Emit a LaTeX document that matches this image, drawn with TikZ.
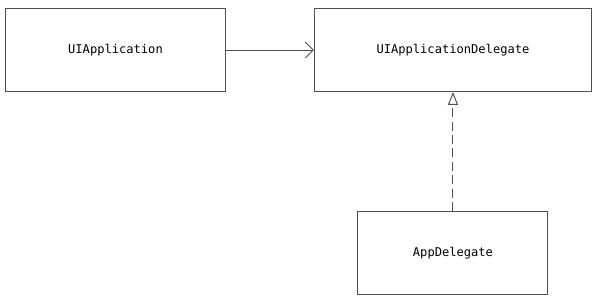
\documentclass[tikz,border=0pt]{standalone}
\usepackage{fontspec}
\setmonofont{DejaVu Sans Mono}
\usepackage{tikz}
\usetikzlibrary{
    arrows.meta,
    positioning,
    calc
}
\definecolor{linegray}{RGB}{80,80,80}
\tikzset{
    classbox/.style={
        draw=linegray,
        rectangle,
        minimum height=20.75mm,
        line width=0.7pt,
        fill=white,
        font=\ttfamily\fontsize{8.6}{10}\selectfont
    },
    assoc/.style={
        -{Straight Barb[length=2mm,width=4mm,open]},
        draw=linegray,
        line width=0.7pt
    },
    realize/.style={
        -{Triangle[length=3.2mm,width=2.5mm,open,fill=white]},
        draw=linegray,
        line width=0.7pt,
        dash pattern=on 2.25mm off 1.1mm
    }
}

\begin{document}
\begin{tikzpicture}[
    node distance=22mm
]

\node[classbox, minimum width=55mm] (app) {UIApplication};
\node[classbox, minimum width=69.25mm, right=of app] (del) {UIApplicationDelegate};
\node[classbox, minimum width=47.5mm, below=29.75mm of del] (appdel) {AppDelegate};

\draw[assoc] (app) -- (del);
\draw[realize] (appdel) -- (del);

\useasboundingbox ($(app.north west)+(-1.25mm,2mm)$) rectangle ++(149.25mm,-75mm);

\end{tikzpicture}
\end{document}
